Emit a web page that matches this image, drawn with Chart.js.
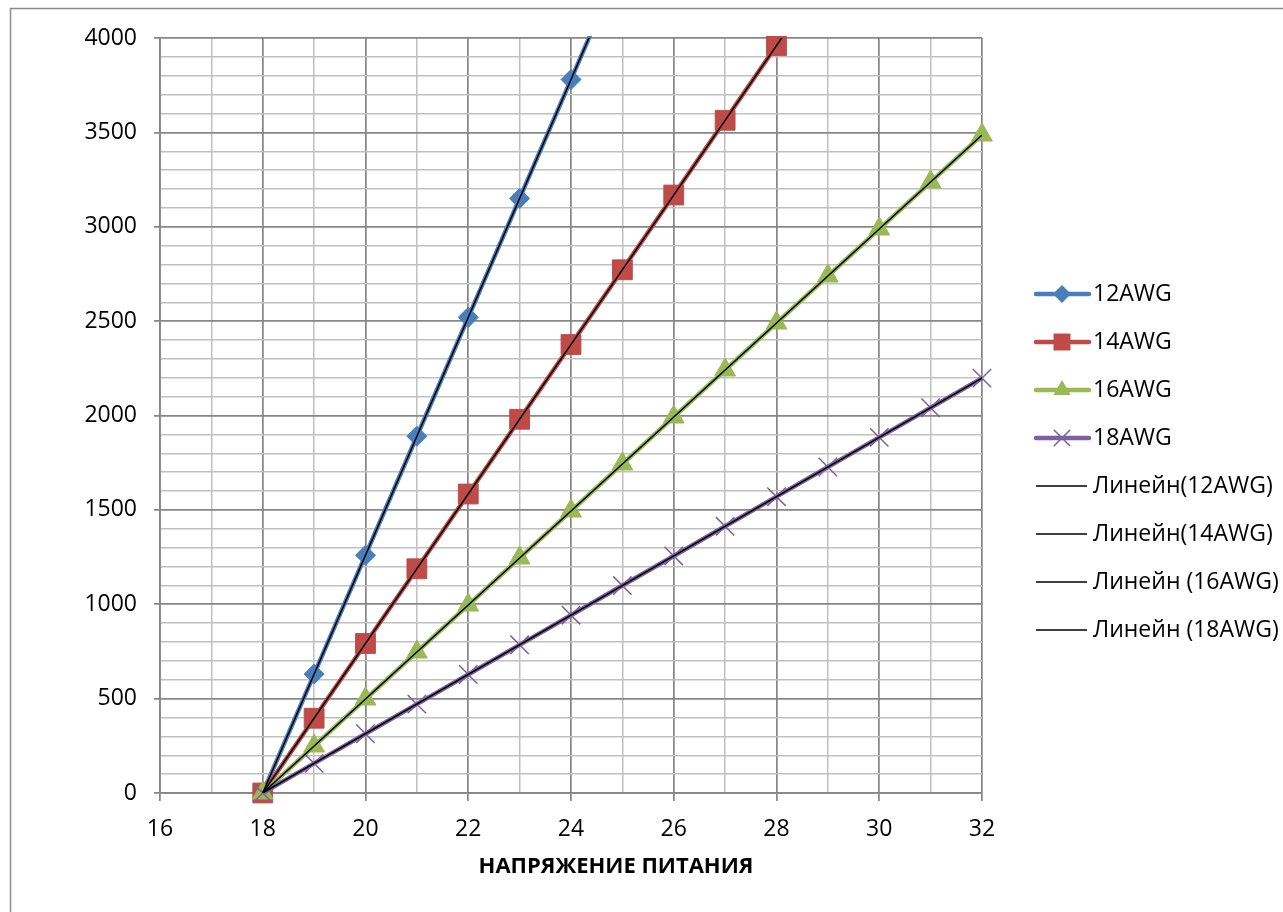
<!DOCTYPE html>
<html>
<head>
<meta charset="utf-8">
<script src="https://cdn.jsdelivr.net/npm/chart.js@4.4.1/dist/chart.umd.min.js"></script>
<style>
html,body{margin:0;padding:0;background:#fff;}
#wrap{position:relative;width:1283px;height:912px;}
</style>
</head>
<body>
<div id="wrap"><canvas id="c" width="1283" height="912"></canvas></div>
<script>
// ---- data ----
const volt12 = [18, 19, 20, 21, 22, 23, 24, 25];
const val12  = [0, 630, 1260, 1890, 2520, 3150, 3780, 4410];
const volt14 = [18, 19, 20, 21, 22, 23, 24, 25, 26, 27, 28];
const val14  = [0, 396, 792, 1188, 1584, 1980, 2376, 2772, 3168, 3564, 3960];
const volt16 = [18, 19, 20, 21, 22, 23, 24, 25, 26, 27, 28, 29, 30, 31, 32];
const val16  = [0, 249, 498, 747, 996, 1245, 1494, 1743, 1992, 2241, 2490, 2739, 2988, 3237, 3486];
const volt18 = [18, 19, 20, 21, 22, 23, 24, 25, 26, 27, 28, 29, 30, 31, 32];
const val18  = [0, 157, 314, 471, 628, 785, 942, 1099, 1256, 1413, 1570, 1727, 1884, 2041, 2198];
// trend lines (linear), endpoints
const trendX  = [18, 32];
const trend12 = [0, 8820];
const trend14 = [0, 5544];
const trend16 = [0, 3486];
const trend18 = [0, 2198];
const seriesNames = ['12AWG', '14AWG', '16AWG', '18AWG'];
const trendNames = ['Линейн(12AWG)', 'Линейн(14AWG)', 'Линейн (16AWG)', 'Линейн (18AWG)'];
const xTicks = [16, 18, 20, 22, 24, 26, 28, 30, 32];
const yTicks = [0, 500, 1000, 1500, 2000, 2500, 3000, 3500, 4000];
const xTitle = 'НАПРЯЖЕНИЕ ПИТАНИЯ';

const pts = (xs, ys) => xs.map((x, i) => ({x: x, y: ys[i]}));
const colors = ['#4a7ebb', '#be4b48', '#98b954', '#7d60a0'];
const styles = ['rectRot', 'rect', 'triangle', 'crossRot'];
const radii = [10, 14, 12, 13];
const MAJOR = '#878787', MINOR = '#c0c0c0';
const FONT = '"Open Sans", "DejaVu Sans", sans-serif';

const seriesData = [[volt12, val12], [volt14, val14], [volt16, val16], [volt18, val18]];
const trendData = [trend12, trend14, trend16, trend18];

const datasets = [];
seriesData.forEach((d, i) => {
  datasets.push({
    label: seriesNames[i],
    data: pts(d[0], d[1]),
    showLine: true,
    borderColor: colors[i],
    backgroundColor: colors[i],
    borderWidth: 4.5,
    pointStyle: styles[i],
    pointRadius: radii[i],
    pointHoverRadius: radii[i],
    pointBorderWidth: i === 3 ? 1.5 : 1,
    pointBorderColor: colors[i],
    pointBackgroundColor: colors[i],
    clip: { left: 20, top: 2, right: 20, bottom: 20 },
    order: 5 - i
  });
});
trendData.forEach((t, i) => {
  datasets.push({
    label: trendNames[i],
    data: pts(trendX, t),
    showLine: true,
    borderColor: '#000000',
    borderWidth: 1.5,
    pointRadius: 0,
    pointHoverRadius: 0,
    order: 0
  });
});

function drawMarker(ctx, style, x, y, r, color) {
  ctx.save();
  ctx.fillStyle = color; ctx.strokeStyle = color; ctx.lineWidth = 1.5;
  ctx.beginPath();
  if (style === 'rectRot') {
    ctx.moveTo(x - r, y); ctx.lineTo(x, y - r); ctx.lineTo(x + r, y); ctx.lineTo(x, y + r); ctx.closePath(); ctx.fill();
  } else if (style === 'rect') {
    const s = r * Math.SQRT1_2; ctx.rect(x - s, y - s, 2 * s, 2 * s); ctx.fill();
  } else if (style === 'triangle') {
    ctx.moveTo(x, y - r); ctx.lineTo(x + r * 0.866, y + r * 0.5); ctx.lineTo(x - r * 0.866, y + r * 0.5); ctx.closePath(); ctx.fill();
  } else {
    const o = r * Math.SQRT1_2;
    ctx.moveTo(x - o, y - o); ctx.lineTo(x + o, y + o); ctx.moveTo(x + o, y - o); ctx.lineTo(x - o, y + o); ctx.stroke();
  }
  ctx.restore();
}

const decor = {
  id: 'decor',
  beforeDraw(chart) {
    const ctx = chart.ctx;
    ctx.save();
    ctx.fillStyle = '#fff'; ctx.fillRect(0, 0, chart.width, chart.height);
    ctx.strokeStyle = '#8c8c8c'; ctx.lineWidth = 1.5;
    ctx.strokeRect(10.5, 8.5, 1400, 1000);
    ctx.restore();
  },
  afterDraw(chart) {
    const ctx = chart.ctx;
    ctx.save();
    // x axis title
    ctx.font = 'bold 22px ' + FONT;
    ctx.fillStyle = '#000';
    ctx.textAlign = 'center'; ctx.textBaseline = 'middle';
    ctx.fillText(xTitle, 616, 867);
    // legend
    ctx.font = '23px ' + FONT;
    ctx.textAlign = 'left';
    const y0 = 294, dy = 48;
    seriesNames.forEach((n, i) => {
      const y = y0 + dy * i;
      ctx.strokeStyle = colors[i]; ctx.lineWidth = 4.5; ctx.lineCap = 'round';
      ctx.beginPath(); ctx.moveTo(1036, y); ctx.lineTo(1089, y); ctx.stroke();
      drawMarker(ctx, styles[i], 1062, y, [9, 12, 10, 11][i], colors[i]);
      ctx.fillStyle = '#000';
      ctx.fillText(n, 1093, y);
    });
    trendNames.forEach((n, i) => {
      const y = y0 + dy * (i + 4);
      ctx.strokeStyle = '#000'; ctx.lineWidth = 1.5; ctx.lineCap = 'butt';
      ctx.beginPath(); ctx.moveTo(1036, y); ctx.lineTo(1087, y); ctx.stroke();
      ctx.fillStyle = '#000';
      ctx.fillText(n, 1093, y);
    });
    ctx.restore();
  }
};

new Chart(document.getElementById('c'), {
  type: 'scatter',
  data: { datasets: datasets },
  plugins: [decor],
  options: {
    responsive: false,
    animation: false,
    events: [],
    layout: { padding: { left: 10, right: 301, top: 38, bottom: 0 } },
    plugins: { legend: { display: false }, tooltip: { enabled: false } },
    scales: {
      x: {
        type: 'linear', min: 16, max: 32,
        afterFit(s) { s.height = 119; },
        afterBuildTicks(s) { const t = []; for (let v = 16; v <= 32; v++) t.push({value: v}); s.ticks = t; },
        ticks: {
          autoSkip: false, maxRotation: 0, padding: 15,
          color: '#000', font: { family: FONT, size: 23 },
          callback: v => xTicks.includes(v) ? String(v) : ''
        },
        grid: {
          color: c => (c.tick && c.tick.value % 2 === 0) ? MAJOR : MINOR,
          lineWidth: c => (c.tick && c.tick.value % 2 === 0) ? 1.75 : 1.5,
          tickColor: c => (c.tick && c.tick.value % 2 === 0) ? MAJOR : 'rgba(0,0,0,0)',
          tickLength: 8, drawTicks: true
        },
        border: { color: MAJOR, width: 1.75 }
      },
      y: {
        type: 'linear', min: 0, max: 4000,
        afterFit(s) { s.width = 150; },
        afterBuildTicks(s) { const t = []; for (let v = 0; v <= 4000; v += 100) t.push({value: v}); s.ticks = t; },
        ticks: {
          autoSkip: false, padding: 17,
          color: '#000', font: { family: FONT, size: 23 },
          callback: v => yTicks.includes(v) ? String(v) : ''
        },
        grid: {
          color: c => (c.tick && c.tick.value % 500 === 0) ? MAJOR : MINOR,
          lineWidth: c => (c.tick && c.tick.value % 500 === 0) ? 1.75 : 1.5,
          tickColor: c => (c.tick && c.tick.value % 500 === 0) ? MAJOR : 'rgba(0,0,0,0)',
          tickLength: 6, drawTicks: true
        },
        border: { color: MAJOR, width: 1.75 }
      }
    }
  }
});
</script>
</body>
</html>
